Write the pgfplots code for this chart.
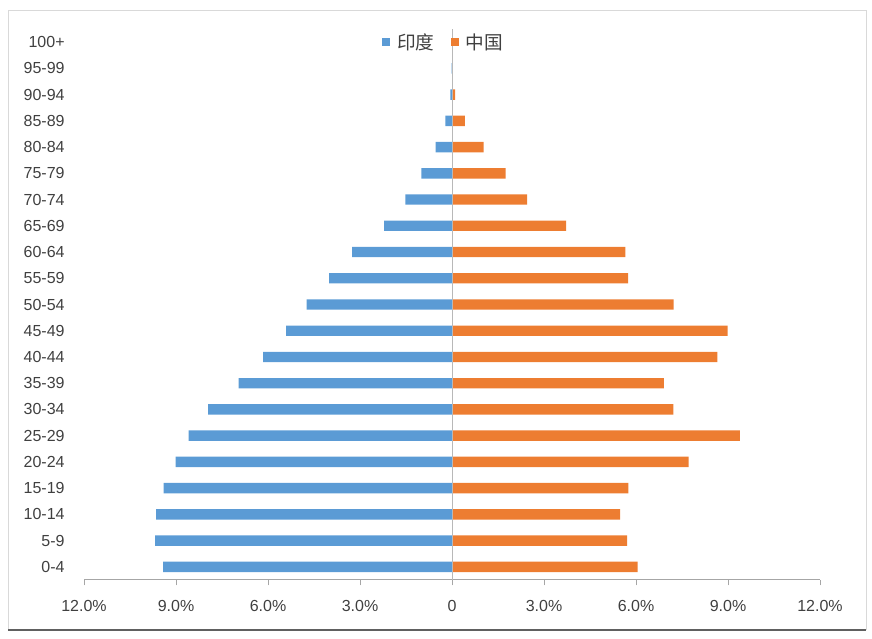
\documentclass[border=0pt]{standalone}
\usepackage{fontspec}
\setmainfont{Liberation Sans}
\newfontfamily\cjk{Noto Sans CJK SC}
\usepackage{pgfplots}
\pgfplotsset{compat=1.18}
\definecolor{inblue}{HTML}{5B9BD5}
\definecolor{cnorange}{HTML}{ED7D31}
\definecolor{txt}{HTML}{404040}
\definecolor{axgray}{HTML}{A6A6A6}
\begin{document}
\begin{tikzpicture}
\path[use as bounding box] (0,0) rectangle (654pt,479.25pt);
\draw[gray!30, line width=0.75pt] (6pt,6.75pt) rectangle (649.5pt,471pt);
\draw[gray!75!black, line width=1.2pt] (6pt,6.75pt) -- (649.5pt,6.75pt);
\begin{axis}[
  at={(63pt,44.25pt)}, anchor=south west,
  scale only axis, width=552pt, height=413.25pt,
  xmin=-12, xmax=12, ymin=-0.5, ymax=20.5,
  xbar, bar width=7.8pt, bar shift=0pt,
  axis x line*=bottom, axis y line*=left,
  x axis line style={axgray, line width=0.75pt},
  y axis line style={draw=none},
  xtick={-12,-9,...,12},
  xticklabels={12.0\%,9.0\%,6.0\%,3.0\%,0,3.0\%,6.0\%,9.0\%,12.0\%},
  ytick={0,...,20},
  yticklabels={0-4,5-9,10-14,15-19,20-24,25-29,30-34,35-39,40-44,45-49,50-54,55-59,60-64,65-69,70-74,75-79,80-84,85-89,90-94,95-99,100+},
  tick align=outside, major tick length=4pt,
  xtick style={axgray, line width=0.75pt},
  ytick style={draw=none},
  tick label style={font=\fontsize{12}{14}\selectfont, text=txt},
  xticklabel style={yshift=-8pt},
  yticklabel style={xshift=-7pt},
  legend columns=2,
  legend style={at={(0.405,0.976)}, anchor=west, draw=none, fill=none,
    font=\cjk\fontsize{14}{16}\selectfont, text=txt, inner sep=0pt,
    nodes={inner sep=0pt},
    /tikz/every odd column/.append style={column sep=5pt},
    /tikz/every even column/.append style={column sep=12.5pt}},
]
\addplot[fill=inblue, draw=none,
  legend image code/.code={\fill[inblue] (0pt,-3pt) rectangle (6pt,3pt);}]
  coordinates {
  (-9.42,0) (-9.68,1) (-9.65,2) (-9.40,3) (-9.01,4) (-8.59,5) (-7.95,6)
  (-6.96,7) (-6.16,8) (-5.41,9) (-4.74,10) (-4.01,11) (-3.26,12) (-2.21,13)
  (-1.52,14) (-1.00,15) (-0.53,16) (-0.22,17) (-0.05,18) (-0.01,19) (0,20)};
\addlegendentry{印度}
\addplot[fill=cnorange, draw=none,
  legend image code/.code={\fill[cnorange] (0pt,-3pt) rectangle (6pt,3pt);}]
  coordinates {
  (6.05,0) (5.71,1) (5.48,2) (5.75,3) (7.72,4) (9.39,5) (7.22,6)
  (6.91,7) (8.65,8) (8.99,9) (7.23,10) (5.74,11) (5.65,12) (3.72,13)
  (2.45,14) (1.75,15) (1.03,16) (0.42,17) (0.10,18) (0.02,19) (0,20)};
\addlegendentry{中国}
\draw[axgray!80, line width=0.6pt] (axis cs:0,-0.5) -- (axis cs:0,20.5);
\end{axis}
\end{tikzpicture}
\end{document}
